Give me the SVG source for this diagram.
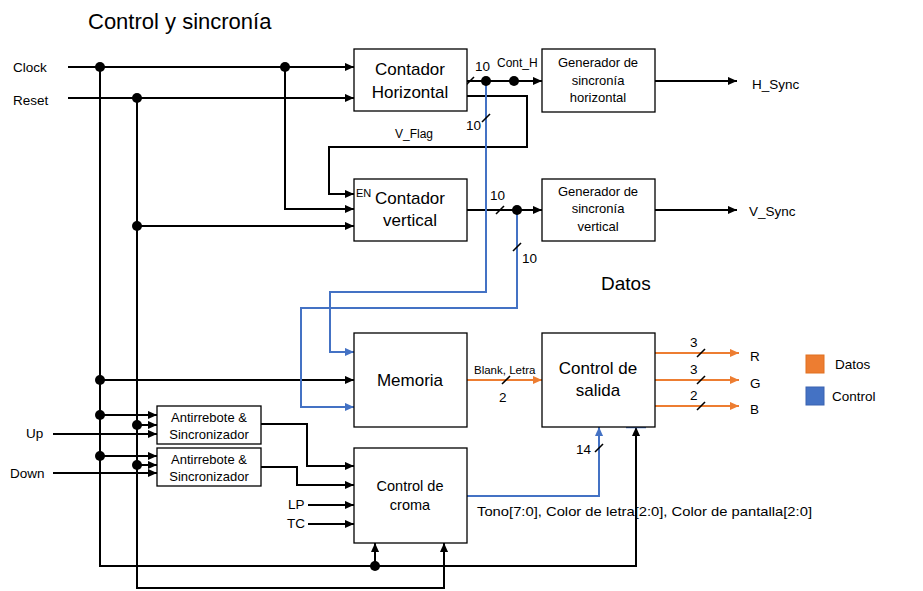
<svg xmlns="http://www.w3.org/2000/svg" width="923" height="591" viewBox="0 0 923 591">
<defs>
<style>
text{font-family:"Liberation Sans",Arial,sans-serif;fill:#000}
.box{fill:#fff;stroke:#000;stroke-width:1.3}
.w{fill:none;stroke:#000;stroke-width:2}
.b{fill:none;stroke:#4472C4;stroke-width:2}
.o{fill:none;stroke:#ED7D31;stroke-width:2}
.s{stroke:#000;stroke-width:1.6}
.ab{marker-end:url(#ak)}
.abb{marker-end:url(#ablue)}
.abo{marker-end:url(#aor)}
.big{font-size:17px;text-anchor:middle}
.med{font-size:13px;text-anchor:middle}
.med14{font-size:14.5px;text-anchor:middle}
.lab{font-size:13.5px}
.sm{font-size:12px}
</style>
<marker id="ak" viewBox="0 0 10 10" refX="10" refY="5" markerWidth="10" markerHeight="9" markerUnits="userSpaceOnUse" orient="auto"><path d="M0,0.5 L10,5 L0,9.5 z" fill="#000"/></marker>
<marker id="ablue" viewBox="0 0 10 10" refX="10" refY="5" markerWidth="10" markerHeight="9" markerUnits="userSpaceOnUse" orient="auto"><path d="M0,0.5 L10,5 L0,9.5 z" fill="#4472C4"/></marker>
<marker id="aor" viewBox="0 0 10 10" refX="10" refY="5" markerWidth="10" markerHeight="9" markerUnits="userSpaceOnUse" orient="auto"><path d="M0,0.5 L10,5 L0,9.5 z" fill="#ED7D31"/></marker>
</defs>
<rect width="923" height="591" fill="#fff"/>

<text x="88" y="29" font-size="22">Control y sincronía</text>
<text x="601" y="290" font-size="19">Datos</text>

<g id="connectors">
<path class="w ab" d="M68,67 H354"/>
<path class="w ab" d="M68,98 H354"/>
<path class="w ab" d="M100,67 V566 H636 V427"/>
<path class="w ab" d="M137,98 V588 H444 V543"/>
<path class="w ab" d="M285,67 V209 H354"/>
<path class="w ab" d="M137,226 H354"/>
<path class="w ab" d="M467,96 H527 V147 H329 V194 H354"/>
<path class="w ab" d="M467,81 H542"/>
<path class="w ab" d="M467,210 H542"/>
<path class="w ab" d="M655,81 H737"/>
<path class="w ab" d="M655,210 H737"/>
<path class="w ab" d="M100,380 H354"/>
<path class="w ab" d="M100,415 H157"/>
<path class="w ab" d="M137,425 H157"/>
<path class="w ab" d="M53,434 H157"/>
<path class="w ab" d="M100,456 H157"/>
<path class="w ab" d="M137,465 H157"/>
<path class="w ab" d="M53,473 H157"/>
<path class="w ab" d="M261,424 H307 V466 H354"/>
<path class="w ab" d="M261,467 H297 V485 H354"/>
<path class="w ab" d="M308,505 H354"/>
<path class="w ab" d="M308,524 H354"/>
<path class="w ab" d="M375,566 V543"/>
<path class="b abb" d="M486,81 V292 H330 V352 H354"/>
<path class="b abb" d="M517,210 V308 H301 V407 H354"/>
<path class="b abb" d="M467,496 H599 V427"/>
<path class="o abo" d="M467,380 H542"/>
<path class="o abo" d="M655,353 H739"/>
<path class="o abo" d="M655,380 H739"/>
<path class="o abo" d="M655,406 H739"/>
<line x1="626" y1="427.5" x2="646" y2="427.5" stroke="#4472C4" stroke-width="1.5"/>
<g fill="#000">
<circle cx="100" cy="67" r="5"/>
<circle cx="285" cy="67" r="5"/>
<circle cx="137" cy="98" r="5"/>
<circle cx="137" cy="226" r="5"/>
<circle cx="486" cy="81" r="5"/>
<circle cx="514" cy="81" r="5"/>
<circle cx="517" cy="210" r="5"/>
<circle cx="100" cy="380" r="5"/>
<circle cx="100" cy="415" r="5"/>
<circle cx="137" cy="425" r="5"/>
<circle cx="100" cy="456" r="5"/>
<circle cx="137" cy="465" r="5"/>
<circle cx="375" cy="566" r="5"/>
</g>
<g class="s">
<line x1="466" y1="85" x2="474" y2="77"/>
<line x1="482" y1="122" x2="490" y2="114"/>
<line x1="496" y1="214" x2="504" y2="206"/>
<line x1="513" y1="251" x2="521" y2="243"/>
<line x1="502" y1="384" x2="510" y2="376"/>
<line x1="697" y1="357" x2="705" y2="349"/>
<line x1="697" y1="384" x2="705" y2="376"/>
<line x1="697" y1="410" x2="705" y2="402"/>
<line x1="595" y1="452" x2="603" y2="444"/>
</g>
<text class="lab" x="475" y="71">10</text>
<text class="sm" x="497" y="67">Cont_H</text>
<text class="lab" x="466" y="130">10</text>
<text class="sm" x="395" y="138">V_Flag</text>
<text class="lab" x="490" y="200">10</text>
<text class="lab" x="522" y="263">10</text>
<text x="474" y="374" font-size="11.5">Blank, Letra</text>
<text class="lab" x="499" y="402">2</text>
<text class="lab" x="690" y="347">3</text>
<text class="lab" x="690" y="374">3</text>
<text class="lab" x="690" y="400">2</text>
<text class="lab" x="576" y="454">14</text>
<text class="lab" x="477" y="516" textLength="335" lengthAdjust="spacingAndGlyphs">Tono[7:0], Color de letra[2:0], Color de pantalla[2:0]</text>
</g>

<g id="inputs">
<text class="lab" x="13" y="72">Clock</text>
<text class="lab" x="13" y="105">Reset</text>
<text class="lab" x="26" y="438">Up</text>
<text class="lab" x="10" y="478">Down</text>
<text class="lab" x="288" y="509">LP</text>
<text class="lab" x="287" y="528">TC</text>
</g>

<g id="outputs">
<text class="lab" x="752" y="89">H_Sync</text>
<text class="lab" x="749" y="216">V_Sync</text>
<text class="lab" x="750" y="361">R</text>
<text class="lab" x="750" y="388">G</text>
<text class="lab" x="750" y="414">B</text>
</g>

<g id="contador-horizontal">
<rect class="box" x="354" y="49" width="113" height="62"/>
<text class="big" x="410" y="75">Contador</text>
<text class="big" x="410" y="98">Horizontal</text>
</g>

<g id="gen-sync-h">
<rect class="box" x="542" y="49" width="113" height="63"/>
<text class="med" x="598" y="67">Generador de</text>
<text class="med" x="598" y="85">sincronía</text>
<text class="med" x="598" y="102">horizontal</text>
</g>

<g id="contador-vertical">
<rect class="box" x="354" y="179" width="113" height="62"/>
<text x="356" y="197" font-size="11">EN</text>
<text class="big" x="410" y="204">Contador</text>
<text class="big" x="410" y="226">vertical</text>
</g>

<g id="gen-sync-v">
<rect class="box" x="542" y="179" width="113" height="62"/>
<text class="med" x="598" y="196">Generador de</text>
<text class="med" x="598" y="213">sincronía</text>
<text class="med" x="598" y="231">vertical</text>
</g>

<g id="memoria">
<rect class="box" x="354" y="333" width="113" height="94"/>
<text class="big" x="410" y="386">Memoria</text>
</g>

<g id="control-salida">
<rect class="box" x="542" y="333" width="113" height="94"/>
<text class="big" x="598" y="374">Control de</text>
<text class="big" x="598" y="396">salida</text>
</g>

<g id="antirrebote-up">
<rect class="box" x="157" y="406" width="104" height="38"/>
<text class="med" x="209" y="422">Antirrebote &amp;</text>
<text class="med" x="209" y="439">Sincronizador</text>
</g>

<g id="antirrebote-down">
<rect class="box" x="157" y="448" width="104" height="38"/>
<text class="med" x="209" y="464">Antirrebote &amp;</text>
<text class="med" x="209" y="481">Sincronizador</text>
</g>

<g id="control-croma">
<rect class="box" x="354" y="448" width="113" height="95"/>
<text class="med14" x="410" y="491">Control de</text>
<text class="med14" x="410" y="510">croma</text>
</g>

<g id="legend">
<rect x="806" y="355" width="18" height="18" fill="#ED7D31" stroke="#E07020" stroke-width="1"/>
<text class="lab" x="835" y="369">Datos</text>
<rect x="806" y="387" width="18" height="18" fill="#4472C4" stroke="#3A62B0" stroke-width="1"/>
<text class="lab" x="832" y="401">Control</text>
</g>
</svg>
